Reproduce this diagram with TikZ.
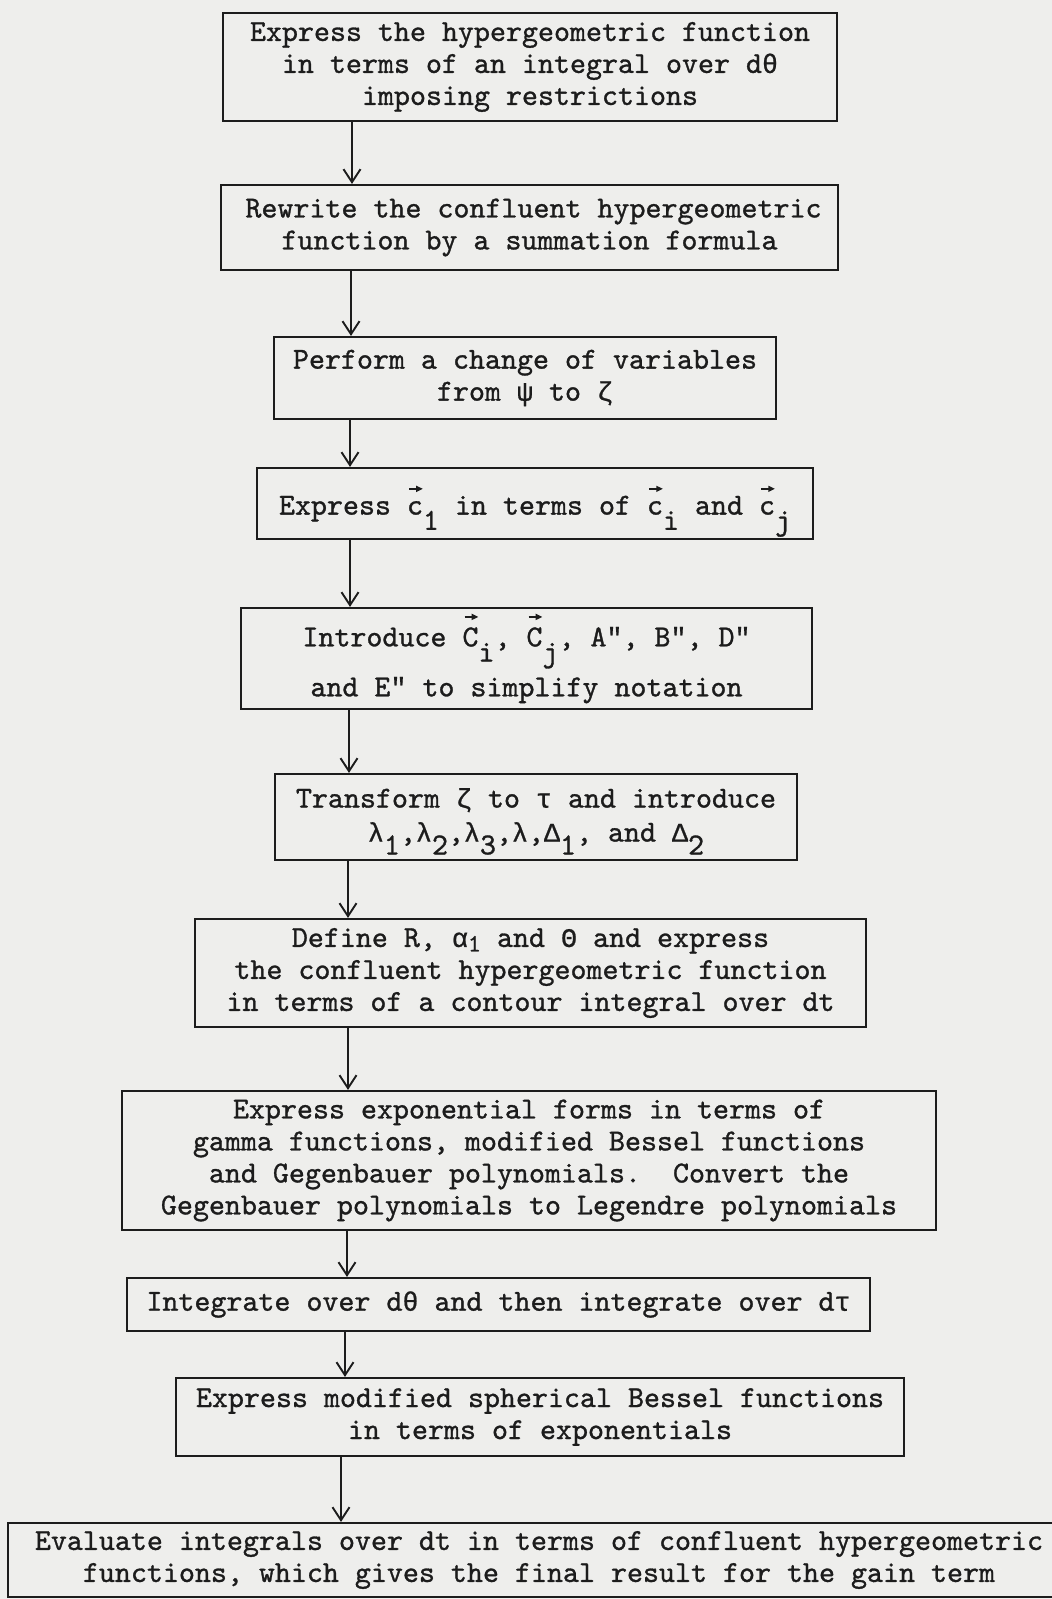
\documentclass[tikz,border=0pt]{standalone}
\usepackage{fontspec}
\newfontfamily\tw[FakeBold=1]{lmmono10-regular.otf}
\newfontfamily\gk[FakeBold=0.8]{Liberation Mono}
\usetikzlibrary{arrows.meta}
\definecolor{paper}{RGB}{238,238,236}
\definecolor{ink}{RGB}{28,28,28}
% Greek letters at monospace width (16pt advance)
\newcommand\g[1]{{\gk\fontsize{26.7pt}{32pt}\selectfont #1}}
% lowered full-size subscript, typewriter style
\newcommand\sbs[2][-0.5em]{\raisebox{#1}[0pt][0pt]{#2}}
% small drawn vector arrow above a letter
\newcommand\varrow{\begin{pgfpicture}\pgfsetlinewidth{1.5pt}\pgfsetcolor{ink}%
 \pgfpathmoveto{\pgfpoint{2pt}{0pt}}\pgfpathlineto{\pgfpoint{11pt}{0pt}}\pgfusepath{stroke}%
 \pgfpathmoveto{\pgfpoint{15.5pt}{0pt}}\pgfpathlineto{\pgfpoint{9pt}{3.2pt}}\pgfpathlineto{\pgfpoint{9pt}{-3.2pt}}\pgfpathclose\pgfusepath{fill}%
\end{pgfpicture}}
\newcommand\vch[2][0.74em]{\rlap{\hspace{1.5pt}\raisebox{#1}{\varrow}}#2}
\tikzset{
  boxn/.style={draw=ink, line width=2.2pt, inner sep=0pt, align=center, text=ink,
    font=\tw\fontsize{30.48pt}{32pt}\selectfont},
  arr/.style={draw=ink, line width=1.9pt, -{Straight Barb[length=13pt,width=17pt,line width=1.9pt]}}
}
\begin{document}
\begin{tikzpicture}[x=1pt,y=-1pt]
\fill[paper] (0,0) rectangle (1052,1599);
\useasboundingbox (0,0) rectangle (1052,1599);

\node[boxn, minimum width=614pt, minimum height=108pt] (b1) at (530,67)
  {Express the hypergeometric function\\in terms of an integral over d\g{θ}\\imposing restrictions};
\node[boxn, minimum width=617pt, minimum height=85pt] (b2) at (529.5,227.5)
  {\hspace{8pt}Rewrite the confluent hypergeometric\\function by a summation formula};
\node[boxn, minimum width=502pt, minimum height=82pt] (b3) at (525,378)
  {Perform a change of variables\\from \g{ψ} to \g{ζ}};
\node[boxn, minimum width=556pt, minimum height=71pt] (b4) at (535,503.5)
  {Express \vch{c}\sbs{1} in terms of \vch{c}\sbs{i} and \vch{c}\sbs{j}};
\node[boxn, minimum width=571pt, minimum height=101pt] (b5) at (526.5,658.5)
  {Introduce \vch[0.86em]{C}\sbs{i}, \vch[0.86em]{C}\sbs{j}, A\g{″}, B\g{″}, D\g{″}\hspace{80pt}\\[18pt]and E\g{″} to simplify notation};
\node[boxn, minimum width=522pt, minimum height=86pt] (b6) at (536,817)
  {Transform \g{ζ} to \g{τ} and introduce\\[2pt]\g{λ}\sbs[-0.42em]{1},\g{λ}\sbs[-0.42em]{2},\g{λ}\sbs[-0.42em]{3},\g{λ},\g{Δ}\sbs[-0.42em]{1}, and \g{Δ}\sbs[-0.42em]{2}\hspace{16pt}};
\node[boxn, minimum width=671pt, minimum height=108pt] (b7) at (530.5,973)
  {Define R, \g{α}\sbs[-0.15em]{\fontsize{25pt}{32pt}\selectfont 1} and \g{Θ} and express\hspace{30pt}\\the confluent hypergeometric function\\in terms of a contour integral over dt};
\node[boxn, minimum width=814pt, minimum height=139pt] (b8) at (529,1160.5)
  {Express exponential forms in terms of\\gamma functions, modified Bessel functions\\and Gegenbauer polynomials.\ \ Convert the\\Gegenbauer polynomials to Legendre polynomials};
\node[boxn, minimum width=743pt, minimum height=53pt] (b9) at (498.5,1304.5)
  {Integrate over d\g{θ} and then integrate over d\g{τ}};
\node[boxn, minimum width=728pt, minimum height=78pt] (b10) at (540,1417)
  {Express modified spherical Bessel functions\\in terms of exponentials\hspace{12pt}};
\node[boxn, minimum width=1062pt, minimum height=74pt] (b11) at (539,1560)
  {Evaluate integrals over dt in terms of confluent hypergeometric\\functions, which gives the final result for the gain term\hspace{34pt}};

\draw[arr] (b1.south -| 352,0) -- (b2.north -| 352,0);
\draw[arr] (b2.south -| 351,0) -- (b3.north -| 351,0);
\draw[arr] (b3.south -| 350,0) -- (b4.north -| 350,0);
\draw[arr] (b4.south -| 350,0) -- (b5.north -| 350,0);
\draw[arr] (b5.south -| 349,0) -- (b6.north -| 349,0);
\draw[arr] (b6.south -| 348,0) -- (b7.north -| 348,0);
\draw[arr] (b7.south -| 348,0) -- (b8.north -| 348,0);
\draw[arr] (b8.south -| 347,0) -- (b9.north -| 347,0);
\draw[arr] (b9.south -| 345,0) -- (b10.north -| 345,0);
\draw[arr] (b10.south -| 341,0) -- (b11.north -| 341,0);
\end{tikzpicture}
\end{document}
